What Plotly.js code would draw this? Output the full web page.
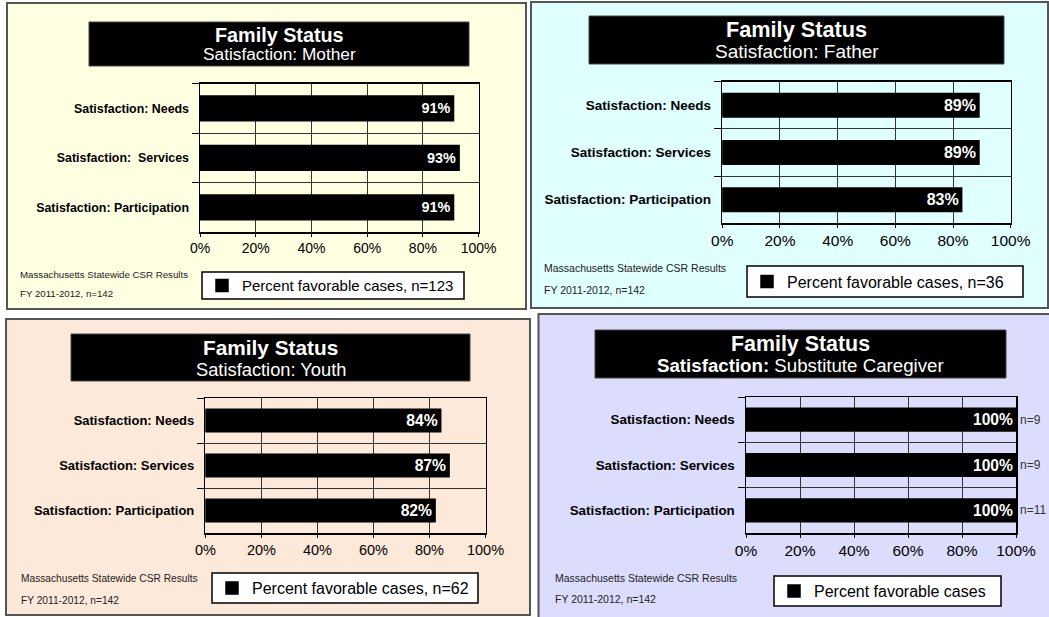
<!DOCTYPE html>
<html>
<head>
<meta charset="utf-8">
<script src="https://cdn.plot.ly/plotly-3.0.1.min.js"></script>
<style>
  html, body { margin: 0; padding: 0; background: #ffffff; }
  #chart { width: 1049px; height: 617px; }
</style>
</head>
<body>
<div id="chart"></div>
<script>
// ---------- data ----------
const categories = ["Satisfaction: Needs", "Satisfaction: Services", "Satisfaction: Participation"];
const motherCategories = ["Satisfaction: Needs", "Satisfaction: \u00a0Services", "Satisfaction: Participation"];
const motherValues = [91, 93, 91];
const fatherValues = [89, 89, 83];
const youthValues = [84, 87, 82];
const caregiverValues = [100, 100, 100];
const caregiverN = ["n=9", "n=9", "n=11"];
const xTickValues = [0, 20, 40, 60, 80, 100];
const xTickLabels = ["0%", "20%", "40%", "60%", "80%", "100%"];
const mainTitle = "Family Status";
const subtitles = ["Satisfaction: Mother", "Satisfaction: Father", "Satisfaction: Youth", "<b>Satisfaction:</b> Substitute Caregiver"];
const legendNames = ["Percent favorable cases, n=123", "Percent favorable cases, n=36", "Percent favorable cases, n=62", "Percent favorable cases"];
const footerLine1 = "Massachusetts Statewide CSR Results";
const footerLine2 = "FY 2011-2012, n=142";

// ---------- layout helpers (pixel geometry -> paper fractions) ----------
const W = 1049, H = 617;
const px = v => v / W;
const py = v => 1 - v / H;
const FONT = "Liberation Sans, Arial, Helvetica, sans-serif";

const panels = [
  { cats: motherCategories, vals: motherValues, bg: "#ffffe1",
    box: [7, 3, 526, 309], plot: [200, 83.5, 478.6, 232], tbox: [89, 22, 469, 66], tY: [35, 54],
    legBox: [202, 272, 464, 299], legFont: 15, tickFont: 14, catFont: 12.4, barFont: 14.4, titleFont: 19.8, subFont: 17.3, footFont: 9.7,
    foot: [17.5, 275, 293] },
  { cats: categories, vals: fatherValues, bg: "#e0ffff",
    box: [531, 2, 1048, 308], plot: [722.3, 81.7, 1010.7, 223.3], tbox: [589, 16, 1004, 64], tY: [30, 52],
    legBox: [747, 266, 1023, 297], legFont: 16, tickFont: 15.5, catFont: 13.5, barFont: 16, titleFont: 21.7, subFont: 19, footFont: 10.5,
    foot: [542, 268, 290] },
  { cats: categories, vals: youthValues, bg: "#fde9d9",
    box: [6, 319, 530, 615], plot: [205.4, 398, 485.5, 533], tbox: [71, 334, 470, 381], tY: [348, 369],
    legBox: [212, 573, 478, 603], legFont: 16, tickFont: 14.5, catFont: 13, barFont: 15.7, titleFont: 20.8, subFont: 18.3, footFont: 10.2,
    foot: [18.5, 578, 600] },
  { cats: categories, vals: caregiverValues, bg: "#dcdcfd",
    box: [538.5, 314, 1052, 620], plot: [746, 397, 1016, 533], tbox: [595, 330, 1006, 378], tY: [344, 365],
    legBox: [774, 576, 1001, 606], legFont: 16, tickFont: 15.5, catFont: 13.4, barFont: 15.6, titleFont: 21.4, subFont: 18.7, footFont: 10.5,
    foot: [553, 578, 599] }
];

const traces = [];
const layout = {
  width: W, height: H,
  margin: { l: 0, r: 0, t: 0, b: 0 },
  paper_bgcolor: "#ffffff",
  plot_bgcolor: "#ffffff",
  font: { family: FONT, color: "#000" },
  bargap: 0.5,
  shapes: [],
  annotations: []
};

panels.forEach((p, i) => {
  const n = i + 1;
  const xa = n === 1 ? "x" : "x" + n;
  const ya = n === 1 ? "y" : "y" + n;
  const legId = n === 1 ? "legend" : "legend" + n;

  traces.push({
    type: "bar", orientation: "h",
    x: p.vals, y: p.cats,
    xaxis: xa, yaxis: ya,
    name: legendNames[i], legend: legId, showlegend: true,
    marker: { color: "#000000", line: { width: 1.5, color: "#000000" } },
    text: p.vals.map(v => v + "%"),
    textposition: "inside", insidetextanchor: "end",
    textfont: { color: "#ffffff", size: p.barFont, weight: "bold", family: FONT },
    constraintext: "none",
    hoverinfo: "skip"
  });

  layout["xaxis" + (n === 1 ? "" : n)] = {
    domain: [px(p.plot[0]), px(p.plot[2])], anchor: ya,
    range: [0, 100], tickmode: "array", tickvals: xTickValues, ticktext: xTickLabels,
    showgrid: true, gridcolor: "#333", gridwidth: 1, zeroline: false,
    showline: true, mirror: true, linecolor: "#000", linewidth: 1.5,
    ticks: "outside", ticklen: 3, tickcolor: "#000",
    tickfont: { size: p.tickFont, color: "#000", family: FONT },
    fixedrange: true
  };
  layout["yaxis" + (n === 1 ? "" : n)] = {
    domain: [py(p.plot[3]), py(p.plot[1])], anchor: xa,
    type: "category", autorange: "reversed", tickson: "boundaries",
    showgrid: true, gridcolor: "#333", gridwidth: 1,
    showline: true, mirror: true, linecolor: "#000", linewidth: 1.5,
    ticks: "outside", ticklen: 7, tickcolor: "#000", ticklabelstandoff: 7,
    tickfont: { size: p.catFont, color: "#000", weight: "bold", family: FONT },
    fixedrange: true
  };

  // legend box drawn as a shape; legend itself transparent, centred in it
  const itemH = Math.max(p.legFont * 1.3, 16) + 3;
  const boxMid = (p.legBox[1] + p.legBox[3]) / 2;
  layout[legId] = {
    x: px(p.legBox[0]), y: py(boxMid - 5 - itemH / 2), xanchor: "left", yanchor: "top",
    bgcolor: "rgba(0,0,0,0)", borderwidth: 0,
    font: { size: p.legFont, color: "#000", family: FONT }
  };
  layout.shapes.push({
    type: "rect", xref: "paper", yref: "paper", layer: "below",
    x0: px(p.legBox[0]), x1: px(p.legBox[2]), y0: py(p.legBox[3]), y1: py(p.legBox[1]),
    fillcolor: "#ffffff", line: { color: "#000", width: 1.5 }
  });

  // panel background
  layout.shapes.unshift({
    type: "rect", xref: "paper", yref: "paper", layer: "below",
    x0: px(p.box[0]), x1: px(p.box[2]), y0: py(p.box[3]), y1: py(p.box[1]),
    fillcolor: p.bg, line: { color: "#555555", width: 2 }
  });
  // title box
  layout.shapes.push({
    type: "rect", xref: "paper", yref: "paper", layer: "below",
    x0: px(p.tbox[0]), x1: px(p.tbox[2]), y0: py(p.tbox[3]), y1: py(p.tbox[1]),
    fillcolor: "#000000", line: { color: "#444", width: 1 }
  });
  const cx = px((p.tbox[0] + p.tbox[2]) / 2);
  layout.annotations.push({
    xref: "paper", yref: "paper", x: cx, y: py(p.tY[0]), xanchor: "center", yanchor: "middle",
    text: "<b>" + mainTitle + "</b>", showarrow: false,
    font: { size: p.titleFont, color: "#ffffff", family: FONT }
  });
  layout.annotations.push({
    xref: "paper", yref: "paper", x: cx, y: py(p.tY[1]), xanchor: "center", yanchor: "middle",
    text: subtitles[i], showarrow: false,
    font: { size: p.subFont, color: "#ffffff", family: FONT }
  });
  // footers
  layout.annotations.push({
    xref: "paper", yref: "paper", x: px(p.foot[0]), y: py(p.foot[1]), xanchor: "left", yanchor: "middle",
    text: footerLine1, showarrow: false,
    font: { size: p.footFont, color: "#222", family: FONT }
  });
  layout.annotations.push({
    xref: "paper", yref: "paper", x: px(p.foot[0]), y: py(p.foot[2]), xanchor: "left", yanchor: "middle",
    text: footerLine2, showarrow: false,
    font: { size: p.footFont, color: "#222", family: FONT }
  });
});

// n labels beside the caregiver bars
caregiverN.forEach((t, j) => {
  layout.annotations.push({
    xref: "x4", yref: "y4", x: caregiverValues[j], y: categories[j],
    xanchor: "left", yanchor: "middle", xshift: 2,
    text: t, showarrow: false,
    font: { size: 12, color: "#333", family: FONT }
  });
});

Plotly.newPlot("chart", traces, layout, { displayModeBar: false, staticPlot: true });
</script>
</body>
</html>
